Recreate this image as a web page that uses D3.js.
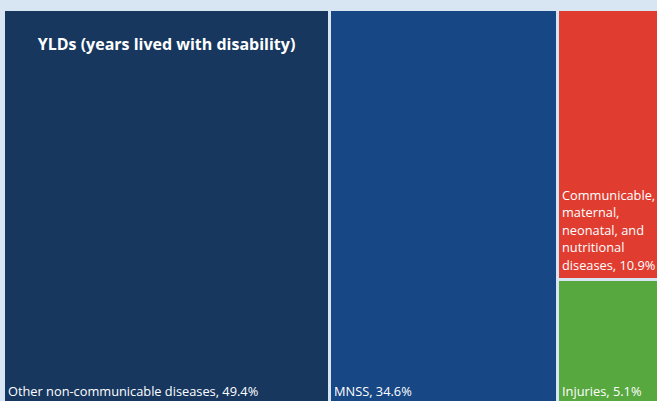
<!DOCTYPE html>
<html>
<head>
<meta charset="utf-8">
<script src="https://cdn.jsdelivr.net/npm/d3@7"></script>
<style>
  body { margin: 0; background: #d8e6f3; }
  svg { display: block; }
</style>
</head>
<body>
<svg id="chart"></svg>
<script>
const width = 657;
const height = 401;

// leaf names, shares (%), colours, and label lines
const names = ["Other non-communicable diseases", "MNSS", "Communicable, maternal, neonatal, and nutritional diseases", "Injuries"];
const shares = [49.4, 34.6, 10.9, 5.1];
const colors = ["#17375f", "#174785", "#e03d30", "#58a840"];
const labelLines = [
  ["Other non-communicable diseases, 49.4%"],
  ["MNSS, 34.6%"],
  ["Communicable,", "maternal,", "neonatal, and", "nutritional", "diseases, 10.9%"],
  ["Injuries, 5.1%"]
];
const title = "YLDs (years lived with disability)";

const data = {
  name: "root",
  children: [
    { name: names[0], value: shares[0], i: 0 },
    { name: names[1], value: shares[1], i: 1 },
    { name: "group", children: [
      { name: names[2], value: shares[2], i: 2 },
      { name: names[3], value: shares[3], i: 3 }
    ]}
  ]
};

const root = d3.hierarchy(data).sum(d => d.value || 0);

// the plotted area runs past the right and bottom edge of the picture
d3.treemap()
  .tile(d3.treemapSliceDice)
  .size([656, 394])
  .paddingInner(3)
  .round(true)(root);

const svg = d3.select("#chart")
  .attr("width", width)
  .attr("height", height);

svg.append("rect")
  .attr("width", width)
  .attr("height", height)
  .attr("fill", "#d8e6f3");

const plot = svg.append("g")
  .attr("transform", "translate(5,11)");

const leaves = plot.selectAll("g.leaf")
  .data(root.leaves())
  .enter().append("g")
  .attr("class", "leaf");

leaves.append("rect")
  .attr("x", d => d.x0)
  .attr("y", d => d.y0)
  .attr("width", d => d.x1 - d.x0)
  .attr("height", d => d.y1 - d.y0)
  .attr("fill", d => colors[d.data.i]);

const lineH = 17.6;
leaves.each(function(d) {
  const lines = labelLines[d.data.i];
  const g = d3.select(this);
  const bottom = d.data.i === 2 ? d.y1 - 8 : 385;
  lines.forEach((t, k) => {
    g.append("text")
      .attr("x", d.x0 + 3)
      .attr("y", bottom - (lines.length - 1 - k) * lineH)
      .attr("fill", "#ffffff")
      .attr("font-family", "'Open Sans', sans-serif")
      .attr("font-size", 12.8)
      .text(t);
  });
});

const first = root.leaves()[0];
plot.append("text")
  .attr("x", (first.x0 + first.x1) / 2)
  .attr("y", 39)
  .attr("text-anchor", "middle")
  .attr("fill", "#ffffff")
  .attr("font-family", "'Open Sans', sans-serif")
  .attr("font-weight", "bold")
  .attr("font-size", 16)
  .text(title);
</script>
</body>
</html>
